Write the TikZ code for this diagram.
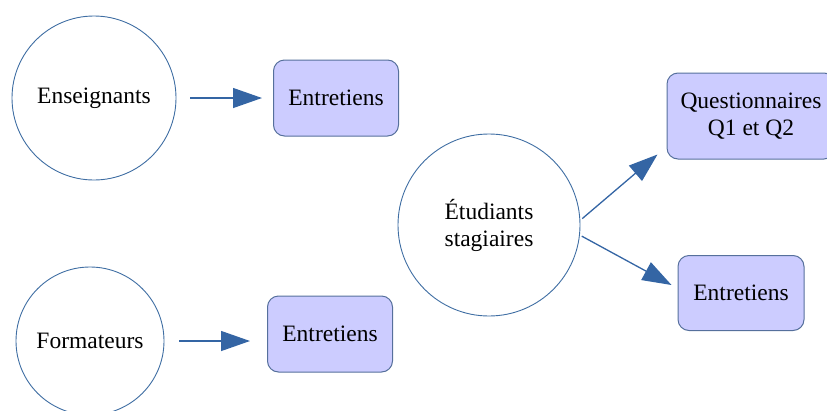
\documentclass[tikz,border=0pt]{standalone}
\usepackage{fontspec}
\setmainfont{Liberation Serif}
\usetikzlibrary{arrows.meta,calc}

\definecolor{ringblue}{HTML}{3F6EA3}
\definecolor{boxfill}{HTML}{CCCCFF}
\definecolor{boxline}{HTML}{56709C}
\definecolor{arrowblue}{HTML}{3465A4}

\tikzset{
  actor/.style={circle, draw=ringblue, line width=0.9pt, fill=white,
    inner sep=0pt, font=\fontsize{23.5}{27}\selectfont, align=center},
  method/.style={rectangle, rounded corners=11pt, draw=boxline, line width=1pt,
    fill=boxfill, inner sep=0pt, font=\fontsize{23.5}{27}\selectfont, align=center},
  flow/.style={draw=arrowblue, line width=1.3pt,
    -{Triangle[length=29pt, width=20pt]}}
}

\begin{document}
\begin{tikzpicture}[x=1pt, y=-1pt]
  \useasboundingbox (0,0) rectangle (827,410);

  % participant groups
  \node[actor, minimum size=164pt] (ens)  at (94,98)  {Enseignants};
  \node[actor, minimum size=148pt] (form) at (90,341) {Formateurs};
  \node[actor, minimum size=182pt] (etu)  at (489,225) {Étudiants\\stagiaires};

  % data collection methods
  \node[method, minimum width=125pt, minimum height=76pt] (ent1) at (336,98)  {Entretiens};
  \node[method, minimum width=125pt, minimum height=76pt] (ent2) at (330,334) {Entretiens};
  \node[method, minimum width=168pt, minimum height=86pt] (quest) at (751,116) {Questionnaires\\Q1 et Q2};
  \node[method, minimum width=126pt, minimum height=75pt] (ent3) at (741,293) {Entretiens};

  % free ends of the arrows (offsets in picture units)
  \coordinate (fstart) at ($(form.east)+(15,0)$);
  \coordinate (fend)   at ($(form.east -| ent2.west)+(-17,0)$);
  \coordinate (qstart) at ($(etu.4)+(2,0)$);
  \coordinate (qend)   at ($(quest.south west)+(-9,-5)$);
  \coordinate (estart) at ($(etu.-7)+(2,0)$);
  \coordinate (eend)   at ($(ent3.west)+(-6,-8)$);

  \draw[flow, shorten <=14pt, shorten >=11pt] (ens) -- (ent1);
  \draw[flow] (fstart) -- (fend);
  \draw[flow] (qstart) -- (qend);
  \draw[flow] (estart) -- (eend);
\end{tikzpicture}
\end{document}
